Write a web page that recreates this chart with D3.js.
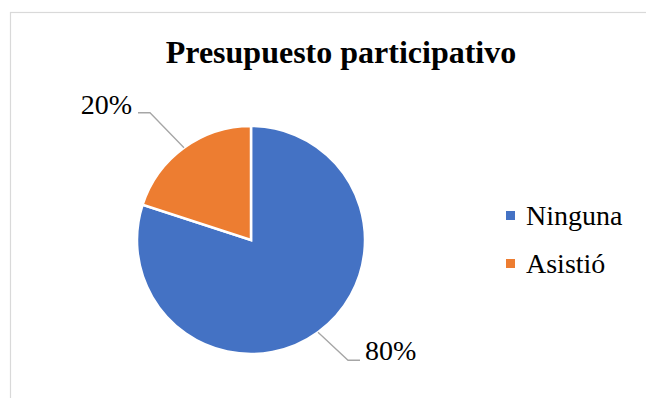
<!DOCTYPE html>
<html>
<head>
<meta charset="utf-8">
<script src="https://cdn.jsdelivr.net/npm/d3@7"></script>
<style>
  html, body { margin: 0; padding: 0; background: #fff; }
  svg { display: block; }
</style>
</head>
<body>
<svg id="chart" width="646" height="398"></svg>
<script>
// Data
const categories = ["Ninguna", "Asistió"];
const values = [80, 20];
const labels = ["80%", "20%"];
const colors = ["#4472C4", "#ED7D31"];
const title = "Presupuesto participativo";

const FONT = "'Liberation Serif'";

function draw() {
  const svg = d3.select("#chart");

  // Chart frame (extends past the right and bottom edges)
  svg.append("rect")
    .attr("x", 10.5).attr("y", 12.5)
    .attr("width", 700).attr("height", 420)
    .attr("fill", "#fff")
    .attr("stroke", "#d9d9d9")
    .attr("stroke-width", 1.2);

  // Title
  svg.append("text")
    .attr("x", 341).attr("y", 63)
    .attr("text-anchor", "middle")
    .style("font-family", FONT)
    .style("font-size", "32px")
    .style("font-weight", "bold")
    .text(title);

  // Pie
  const cx = 251, cy = 240, R = 114;
  const pie = d3.pie().sort(null).value(d => d)(values);
  const arc = d3.arc().innerRadius(0).outerRadius(R);
  const g = svg.append("g").attr("transform", `translate(${cx},${cy})`);

  g.selectAll("path.slice")
    .data(pie)
    .join("path")
    .attr("class", "slice")
    .attr("d", arc)
    .attr("fill", (d, i) => colors[i])
    .attr("stroke", "#fff")
    .attr("stroke-width", 2.5)
    .attr("stroke-linejoin", "miter");

  // Leader lines and data labels
  const labelLayout = [
    { dx: 30, dy: 28, run: 12 },   // lower right
    { dx: -34, dy: -35, run: -12 } // upper left
  ];

  pie.forEach((d, i) => {
    const mid = (d.startAngle + d.endAngle) / 2;
    const p0 = [R * Math.sin(mid), -R * Math.cos(mid)];
    const L = labelLayout[i];
    const p1 = [p0[0] + L.dx, p0[1] + L.dy];
    const p2 = [p1[0] + L.run, p1[1]];
    g.append("polyline")
      .attr("points", [p0, p1, p2].map(p => p.join(",")).join(" "))
      .attr("fill", "none")
      .attr("stroke", "#a6a6a6")
      .attr("stroke-width", 1.3);
    g.append("text")
      .attr("x", p2[0] + (L.run > 0 ? 5 : -6))
      .attr("y", p2[1] + (L.run > 0 ? 0 : 1))
      .attr("text-anchor", L.run > 0 ? "start" : "end")
      .style("font-family", FONT)
      .style("font-size", "28px")
      .text(labels[i]);
  });

  // Legend
  const legend = svg.append("g").attr("transform", "translate(506,0)");
  const ly = d3.scalePoint().domain(categories).range([215.5, 263.5]);
  categories.forEach((c, i) => {
    legend.append("rect")
      .attr("x", 0).attr("y", ly(c) - 4.5)
      .attr("width", 9).attr("height", 9)
      .attr("fill", colors[i]);
    legend.append("text")
      .attr("x", 20).attr("y", ly(c) + 9)
      .style("font-family", FONT)
      .style("font-size", "28px")
      .text(c);
  });
}

if (document.fonts && document.fonts.load) {
  Promise.all([
    document.fonts.load("28px 'Liberation Serif'"),
    document.fonts.load("bold 32px 'Liberation Serif'")
  ]).then(draw, draw);
} else {
  draw();
}
</script>
</body>
</html>
